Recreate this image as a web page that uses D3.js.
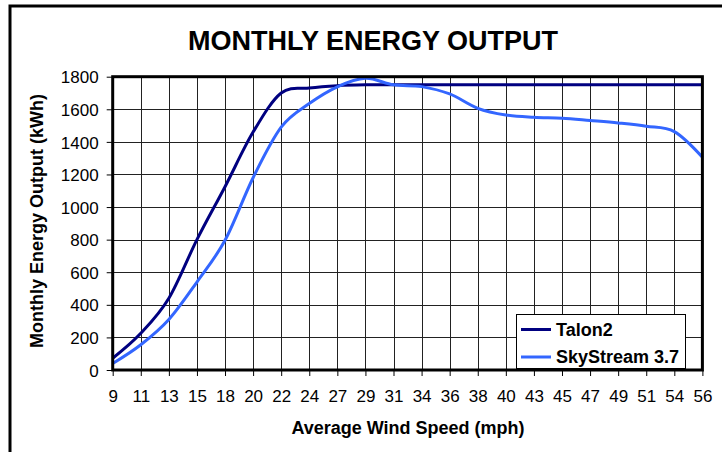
<!DOCTYPE html>
<html>
<head>
<meta charset="utf-8">
<script src="https://cdn.jsdelivr.net/npm/d3@7"></script>
<style>
  html, body { margin: 0; padding: 0; background: #fff; }
  svg { display: block; font-family: "Liberation Sans", Arial, sans-serif; }
</style>
</head>
<body>
<div id="chart"></div>
<script>
// Monthly energy output chart
const windSpeeds = ["9", "11", "13", "15", "18", "20", "22", "24", "27", "29", "31",
    "34", "36", "38", "40", "43", "45", "47", "49", "51", "54", "56"];

const talon2 = [72, 225, 440, 800, 1125, 1460, 1700, 1730, 1745, 1750, 1750,
    1750, 1750, 1750, 1750, 1750, 1750, 1750, 1750, 1750, 1750, 1750];

const skyStream = [40, 155, 310, 540, 796, 1180, 1490, 1635, 1738, 1790, 1750,
    1739, 1694, 1606, 1565, 1551, 1545, 1531, 1516, 1496, 1463, 1306];

const yTicks = [0, 200, 400, 600, 800, 1000, 1200, 1400, 1600, 1800];

const series = [
    { name: "Talon2", values: talon2, color: "#000080" },
    { name: "SkyStream 3.7", values: skyStream, color: "#3366FF" }
];

const width = 722, height = 452;
const plot = { left: 112.7, right: 702.4, top: 76.7, bottom: 370 };

const svg = d3.select("#chart").append("svg")
    .attr("width", width)
    .attr("height", height);

// outer frame (cropped at right and bottom)
svg.append("rect")
    .attr("x", 10).attr("y", 6)
    .attr("width", 730).attr("height", 460)
    .attr("fill", "#fff")
    .attr("stroke", "#000")
    .attr("stroke-width", 3);

// Scales
const x = d3.scalePoint().domain(windSpeeds).range([plot.left, plot.right]);
const y = d3.scaleLinear().domain([0, 1800]).range([plot.bottom, plot.top]);

// grid
const grid = svg.append("g").attr("class", "grid");
grid.selectAll("line.v").data(windSpeeds).enter().append("line")
    .attr("class", "v")
    .attr("x1", d => Math.round(x(d)) + 0.5).attr("x2", d => Math.round(x(d)) + 0.5)
    .attr("y1", plot.top).attr("y2", plot.bottom)
    .attr("stroke", "#222").attr("stroke-width", 1);
grid.selectAll("line.h").data(yTicks).enter().append("line")
    .attr("class", "h")
    .attr("x1", plot.left).attr("x2", plot.right)
    .attr("y1", d => Math.round(y(d)) + 0.5).attr("y2", d => Math.round(y(d)) + 0.5)
    .attr("stroke", "#222").attr("stroke-width", 1);

// Axes
const yAxis = svg.append("g")
    .attr("transform", `translate(${plot.left},0)`)
    .call(d3.axisLeft(y).tickValues(yTicks).tickFormat(d3.format("d")).tickSize(6).tickPadding(8));
const xAxis = svg.append("g")
    .attr("transform", `translate(0,${plot.bottom})`)
    .call(d3.axisBottom(x).tickSize(6).tickPadding(14));

[yAxis, xAxis].forEach(a => {
    a.select(".domain").remove();
    a.selectAll(".tick line").attr("stroke", "#000");
    a.selectAll(".tick text")
        .attr("fill", "#000")
        .style("font-size", "17px")
        .style("font-family", "'Liberation Sans', Arial, sans-serif");
});
yAxis.selectAll(".tick text").attr("dy", "0.36em");

// Lines
const line = d3.line()
    .x((d, i) => x(windSpeeds[i]))
    .y(d => y(d))
    .curve(d3.curveCardinal.tension(0));

svg.selectAll("path.series").data(series).enter().append("path")
    .attr("class", "series")
    .attr("d", d => line(d.values))
    .attr("fill", "none")
    .attr("stroke", d => d.color)
    .attr("stroke-width", 3)
    .attr("stroke-linejoin", "round");

// plot border
svg.append("rect")
    .attr("x", plot.left).attr("y", plot.top)
    .attr("width", plot.right - plot.left)
    .attr("height", plot.bottom - plot.top)
    .attr("fill", "none")
    .attr("stroke", "#000")
    .attr("stroke-width", 3);

// Title
svg.append("text")
    .attr("x", 373).attr("y", 50)
    .attr("text-anchor", "middle")
    .style("font-size", "27px")
    .style("font-weight", "bold")
    .text("MONTHLY ENERGY OUTPUT");

svg.append("text")
    .attr("x", 408).attr("y", 434)
    .attr("text-anchor", "middle")
    .style("font-size", "18px")
    .style("font-weight", "bold")
    .text("Average Wind Speed (mph)");

svg.append("text")
    .attr("transform", "translate(43,221) rotate(-90)")
    .attr("text-anchor", "middle")
    .style("font-size", "18px")
    .style("font-weight", "bold")
    .text("Monthly Energy Output (kWh)");

// Legend
const legend = svg.append("g").attr("transform", "translate(516,314)");
legend.append("rect")
    .attr("x", 0.5).attr("y", 0.5)
    .attr("width", 169).attr("height", 54)
    .attr("fill", "#fff")
    .attr("stroke", "#000")
    .attr("stroke-width", 1);
const item = legend.selectAll("g.item").data(series).enter().append("g")
    .attr("class", "item")
    .attr("transform", (d, i) => `translate(0,${15.5 + i * 27.5})`);
item.append("line")
    .attr("x1", 5).attr("x2", 35)
    .attr("stroke", d => d.color)
    .attr("stroke-width", 3);
item.append("text")
    .attr("x", 40).attr("dy", "0.36em")
    .style("font-size", "18px")
    .style("font-weight", "bold")
    .text(d => d.name);
</script>
</body>
</html>
